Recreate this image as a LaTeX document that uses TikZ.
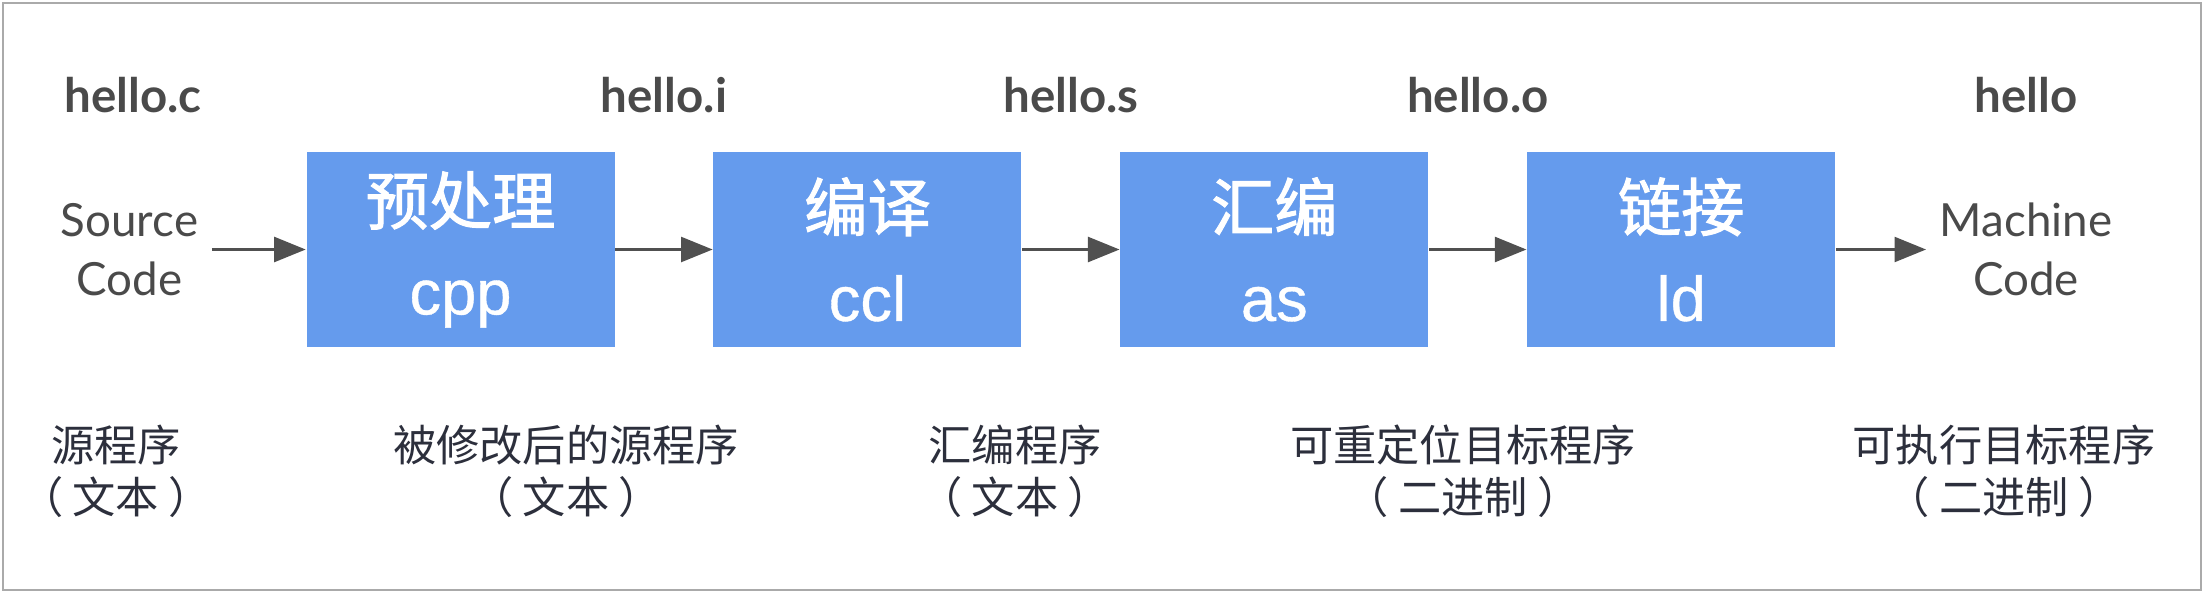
\documentclass[tikz,border=0pt]{standalone}
\usepackage{fontspec}
\setmainfont{Lato}
\newfontfamily\cjk{Noto Sans CJK SC}
\newfontfamily\cjkstage{Noto Sans CJK SC}[FakeBold=1.6]
\newfontfamily\helv{Liberation Sans}[FakeBold=0.6]
\usetikzlibrary{positioning, calc, arrows.meta}
\definecolor{stageblue}{RGB}{101,155,237}
\definecolor{labelgray}{RGB}{74,74,74}
\definecolor{notenavy}{RGB}{44,47,60}
\definecolor{arrowgray}{RGB}{80,80,80}
\definecolor{framegray}{RGB}{170,170,170}
\newcommand{\paren}[1]{（\hspace{0.22em}#1\hspace{0.22em}）}
\tikzset{
	stage/.style={fill=stageblue, minimum width=3.08cm, minimum height=1.95cm, inner sep=0pt, align=center, text=white, font=\fontsize{18}{25.6}\selectfont},
	codetext/.style={align=center, text=labelgray, inner sep=0.13cm, font=\fontsize{13}{16.8}\selectfont},
	fname/.style={anchor=base, text=labelgray, font=\bfseries\fontsize{13.5}{16}\selectfont},
	note/.style={align=center, text=notenavy, font=\cjk\fontsize{12.3}{14.8}\selectfont},
	flow/.style={-{Triangle[length=9pt,width=7pt]}, line width=1.05pt, draw=arrowgray},
}

\begin{document}
\begin{tikzpicture}
	\useasboundingbox (0,0) rectangle (22.06,5.94);
	\draw[framegray, line width=0.6pt] (0.03,0.04) rectangle (22.01,5.91);
	
	\node[stage] (cpp) at (4.605,3.445) {{\cjkstage 预处理}\\{\helv cpp}};
	\node[stage, right=0.975cm of cpp] (ccl) {{\cjkstage 编译}\\{\helv ccl}};
	\node[stage, right=0.975cm of ccl] (as) {{\cjkstage 汇编}\\{\helv as}};
	\node[stage, right=0.975cm of as] (ld) {{\cjkstage 链接}\\{\helv ld}};
	
	\node[codetext] (src) at (1.295,3.445) {Source\\Code};
	\node[codetext] (mach) at (20.26,3.445) {Machine\\Code};
	
	\node[fname] (fc) at (1.33,4.82) {hello.c};
	\node[fname] (fi) at ($(cpp.east)!0.5!(ccl.west)+(0,1.375)$) {hello.i};
	\node[fname] (fs) at ($(ccl.east)!0.5!(as.west)+(0,1.375)$) {hello.s};
	\node[fname] (fo) at ($(as.east)!0.5!(ld.west)+(0,1.375)$) {hello.o};
	\node[fname] (fx) at (20.26,4.82) {hello};
	
	\node[note] (nsrc) at (1.16,1.23) {源程序\\\paren{文本}};
	\node[note] (ncpp) at (5.66,1.23) {被修改后的源程序\\\paren{文本}};
	\node[note] (nccl) at (10.15,1.23) {汇编程序\\\paren{文本}};
	\node[note] (nas) at (14.63,1.23) {可重定位目标程序\\\paren{二进制}};
	\node[note] (nld) at (20.04,1.23) {可执行目标程序\\\paren{二进制}};
	
	\draw[flow] (src) -- (cpp);
	\draw[flow] (cpp) -- (ccl);
	\draw[flow] (ccl) -- (as);
	\draw[flow] (as) -- (ld);
	\draw[flow] (ld) -- (mach);
\end{tikzpicture}
\end{document}
